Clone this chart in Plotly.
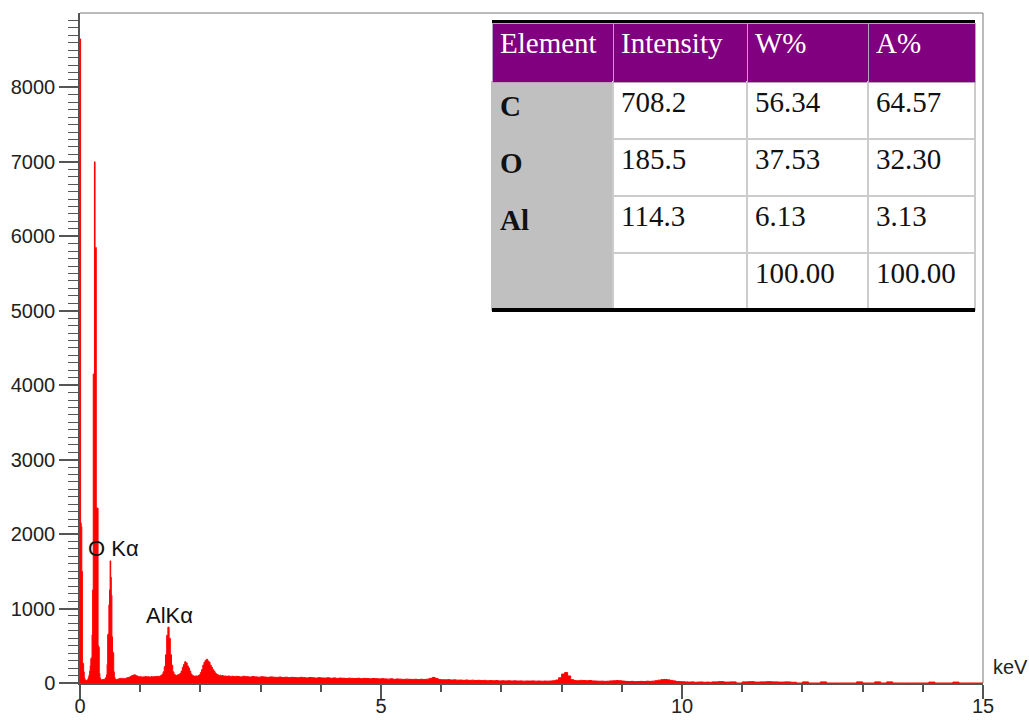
import numpy as np
import plotly.graph_objects as go

# ---- EDS spectrum (counts per channel) ----
# 0.00-0.69 keV, 0.01 keV channels
counts_low = [
    8650, 2150, 2100, 1500, 270, 260, 150, 70, 45, 35,
    30, 35, 40, 55, 80, 110, 160, 230, 330, 340,
    650, 1250, 4150, 4150, 7000, 5850, 5850, 2350, 2350, 2350,
    500, 480, 130, 70, 50, 45, 40, 45, 40, 50,
    45, 55, 60, 80, 110, 250, 650, 660, 1050, 1250,
    1640, 1420, 1180, 620, 420, 400, 150, 80, 55, 50,
    45, 50, 48, 55, 52, 60, 58, 62, 60, 65,
]
# 0.70-2.58 keV, 0.02 keV channels
counts_mid = [
    55, 60, 58, 65, 70, 75, 80, 90, 100, 105,
    110, 100, 95, 85, 80, 85, 78, 82, 80, 88,
    80, 85, 82, 78, 86, 84, 80, 88, 85, 90,
    88, 92, 100, 115, 150, 220, 380, 640, 750, 600,
    380, 240, 150, 115, 105, 100, 110, 115, 130, 160,
    210, 250, 285, 270, 230, 200, 160, 120, 100, 95,
    90, 95, 90, 100, 110, 140, 180, 240, 280, 305,
    318, 295, 280, 240, 210, 180, 160, 135, 120, 110,
    100, 105, 95, 100, 90, 95, 92, 88, 95, 90,
    85, 92, 88, 85, 90,
]
# 2.60-10.45 keV, 0.05 keV channels
counts_high = [
    88, 82, 90, 85, 80, 86, 82, 78, 84,
    80, 76, 82, 78, 75, 80, 74, 78, 72, 76,
    74, 70, 76, 72, 68, 74, 70, 66, 72, 68,
    66, 70, 64, 68, 62, 66, 64, 60, 65, 62,
    60, 64, 58, 62, 60, 56, 60, 58, 55, 58,
    55, 52, 56, 50, 54, 52, 48, 52, 50, 48,
    50, 46, 50, 48, 52, 62, 75, 60, 46, 44,
    42, 45, 40, 42, 38, 40, 36, 40, 35, 38,
    34, 36, 32, 35, 30, 33, 30, 32, 28, 30,
    28, 30, 27, 29, 26, 28, 25, 27, 26, 28,
    25, 27, 24, 26, 25, 27, 30, 40, 70, 120,
    140, 95, 45, 32, 30, 35, 33, 30, 34, 28,
    26, 24, 25, 22, 24, 28, 30, 32, 30, 26,
    22, 20, 22, 18, 20, 22, 20, 24, 22, 25,
    30, 38, 45, 48, 42, 35, 28, 20, 18, 16,
    14, 12, 15, 10, 12, 14, 10, 12, 10,
]
# 10.5-15.0 keV, 0.1 keV channels
counts_tail = [
    15, 18, 12, 15, 0, 15, 18, 12, 15, 18,
    15, 12, 15, 10, 0, 15, 0, 0, 15, 0,
    0, 0, 0, 0, 15, 0, 0, 15, 0, 15,
    0, 0, 0, 0, 0, 0, 12, 0, 0, 0,
    12, 0, 0, 0, 0, 0,
]

def channel_energies(start, step, n):
    return np.round(start + step * np.arange(n), 3)

energy_kev = np.concatenate([
    channel_energies(0.00, 0.01, len(counts_low)),
    channel_energies(0.70, 0.02, len(counts_mid)),
    channel_energies(2.60, 0.05, len(counts_high)),
    channel_energies(10.5, 0.10, len(counts_tail)),
])
counts = np.concatenate([counts_low, counts_mid, counts_high, counts_tail])

# ---- peak labels ----
peak_labels = ["O Kα", "AlKα"]
label_kev = [0.55, 1.49]
label_counts = [1810, 910]

# ---- composition table ----
table_header = ["Element", "Intensity", "W%", "A%"]
elements = ["C", "O", "Al", ""]
intensity = ["708.2", "185.5", "114.3", ""]
weight_pct = ["56.34", "37.53", "6.13", "100.00"]
atomic_pct = ["64.57", "32.30", "3.13", "100.00"]

AX = "#555555"
TICK_FONT = dict(family="Liberation Sans, Arial, sans-serif", size=20, color="#222222")
SERIF = "Liberation Serif, Times New Roman, serif"

fig = go.Figure()

fig.add_trace(go.Scatter(
    x=energy_kev, y=counts, mode="lines",
    line=dict(color="#ff0000", width=1, shape="hv"),
    fill="tozeroy", fillcolor="#ff0000",
    hoverinfo="skip", showlegend=False,
))

for txt, xk, yc in zip(peak_labels, label_kev, label_counts):
    fig.add_annotation(x=xk, y=yc, text=txt, showarrow=False,
                       font=dict(family="Liberation Sans, Arial, sans-serif",
                                 size=22, color="#111111"),
                       xanchor="center", yanchor="middle")

fig.add_annotation(xref="paper", yref="paper", x=1.03, y=0.024, text="keV",
                   showarrow=False, xanchor="center", yanchor="middle",
                   font=dict(family="Liberation Sans, Arial, sans-serif",
                             size=20, color="#222222"))

# table in the upper right of the plot
tx0, tx1 = (492 - 80) / 903, (975 - 80) / 903
ty0, ty1 = (683 - 312) / 670, (683 - 23) / 670
fig.add_trace(go.Table(
    domain=dict(x=[tx0, tx1], y=[ty0, ty1]),
    columnwidth=[121, 134, 121, 107],
    header=dict(
        values=table_header,
        fill_color="#800080",
        line=dict(color="#b9a3b9", width=1),
        align="left", height=59,
        font=dict(family=SERIF, size=29, color="white"),
    ),
    cells=dict(
        values=[["<b>%s</b>" % e if e else "" for e in elements],
                intensity, weight_pct, atomic_pct],
        fill_color=["#c0c0c0", "white", "white", "white"],
        line=dict(color=["#c0c0c0", "#cccccc", "#cccccc", "#cccccc"], width=2),
        align="left", height=57,
        font=dict(family=SERIF, size=29, color="#111111"),
    ),
))

# heavy rules above and below the table
fig.add_shape(type="line", xref="paper", yref="paper",
              x0=tx0, x1=tx1, y0=(683 - 21.5) / 670, y1=(683 - 21.5) / 670,
              line=dict(color="#000000", width=3))
fig.add_shape(type="line", xref="paper", yref="paper",
              x0=tx0, x1=tx1, y0=(683 - 310) / 670, y1=(683 - 310) / 670,
              line=dict(color="#000000", width=4))

# frame on top and right
fig.add_shape(type="line", xref="paper", yref="paper", x0=0, x1=1, y0=1, y1=1,
              line=dict(color="#777777", width=1))
fig.add_shape(type="line", xref="paper", yref="paper", x0=1, x1=1, y0=0, y1=1,
              line=dict(color="#777777", width=1))

fig.update_layout(
    width=1029, height=720,
    margin=dict(l=80, r=46, t=13, b=37),
    paper_bgcolor="white", plot_bgcolor="white",
    showlegend=False,
    xaxis=dict(
        range=[0, 15], showgrid=False, zeroline=False, automargin=False,
        showline=True, linecolor=AX, linewidth=1.5,
        tickmode="linear", tick0=0, dtick=5,
        ticks="outside", ticklen=14, tickwidth=1.5, tickcolor=AX,
        ticklabelstandoff=-10,
        minor=dict(dtick=1, tick0=0, ticks="outside", ticklen=7,
                   tickwidth=1.5, tickcolor=AX),
        tickfont=TICK_FONT,
    ),
    yaxis=dict(
        range=[0, 8999], showgrid=False, zeroline=False, automargin=False,
        showline=True, linecolor=AX, linewidth=1.5,
        tickmode="linear", tick0=0, dtick=1000,
        ticks="outside", ticklen=19, tickwidth=1.5, tickcolor=AX,
        minor=dict(dtick=100, tick0=0, ticks="outside", ticklen=10,
                   tickwidth=1.2, tickcolor=AX),
        tickfont=TICK_FONT,
    ),
)

fig.write_html("out.html")
